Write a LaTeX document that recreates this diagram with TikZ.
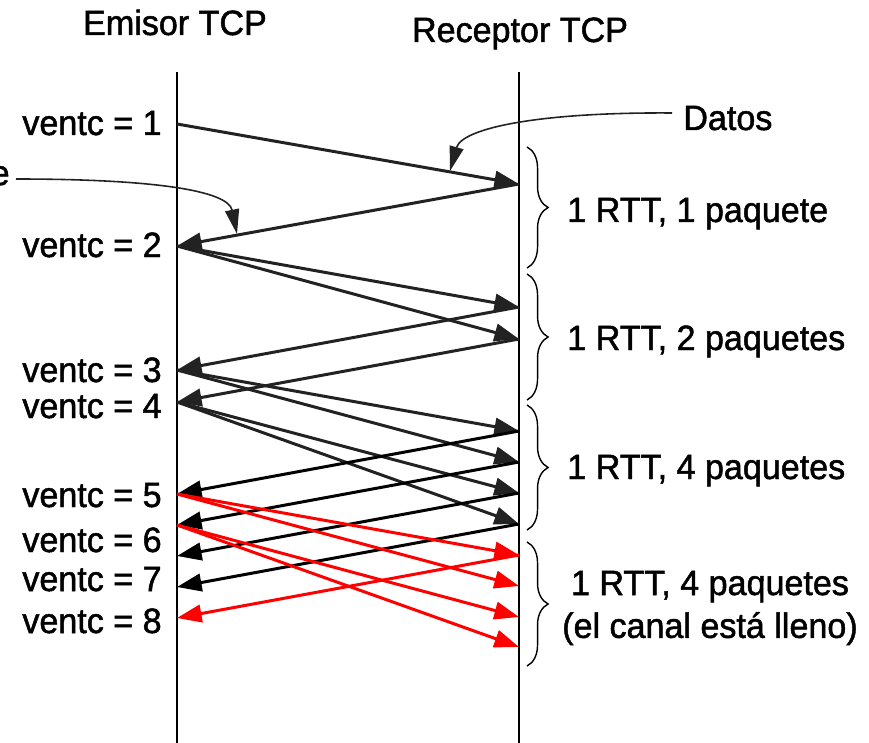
\documentclass[tikz,border=0pt]{standalone}
\usepackage{fontspec}
\setmainfont{Liberation Sans}[FakeStretch=0.97, FakeBold=1.4]
\usepackage{xcolor}
\usetikzlibrary{arrows.meta, decorations.pathreplacing}
\definecolor{pktgray}{HTML}{222222}
\definecolor{pktred}{HTML}{FF0000}

\begin{document}
\begin{tikzpicture}[
    x=0.02cm, y=-0.02cm,
    lbl/.style={font=\fontsize{20}{24.4}\selectfont, inner sep=0pt},
    lifeline/.style={line width=0.9pt},
    pkt/.style={-{Triangle[length=14pt, width=10pt]}, line width=1.7pt, pktgray},
    ackblk/.style={pkt, black},
    pktr/.style={pkt, pktred},
    note/.style={-{Triangle[length=14pt, width=8pt]}, line width=0.9pt, pktgray},
    brc/.style={decorate, decoration={brace, amplitude=12pt}, line width=0.8pt},
  ]

  \useasboundingbox (0,0) rectangle (869,743);

  \node[lbl, anchor=base] (emisor) at (175,35) {Emisor TCP};
  \node[lbl, anchor=base] (receptor) at (520,42) {Receptor TCP};

  \coordinate (etop) at (177,72);
  \coordinate (ebot) at (177,743);
  \coordinate (rtop) at (519,72);
  \coordinate (rbot) at (519,743);
  \draw[lifeline] (etop) -- (ebot);
  \draw[lifeline] (rtop) -- (rbot);

  \node[lbl, anchor=base east] (v1) at (162,135) {ventc = 1};
  \node[lbl, anchor=base east] (v2) at (162,257) {ventc = 2};
  \node[lbl, anchor=base east] (v3) at (162,382) {ventc = 3};
  \node[lbl, anchor=base east] (v4) at (162,418) {ventc = 4};
  \node[lbl, anchor=base east] (v5) at (162,507) {ventc = 5};
  \node[lbl, anchor=base east] (v6) at (162,552) {ventc = 6};
  \node[lbl, anchor=base east] (v7) at (162,591) {ventc = 7};
  \node[lbl, anchor=base east] (v8) at (162,633) {ventc = 8};

  % emisor side
  \coordinate (e1) at (177,124);
  \coordinate (e2) at (177,246);
  \coordinate (e3) at (177,370);
  \coordinate (e4) at (177,402);
  \coordinate (e5) at (177,494);
  \coordinate (e6) at (177,525);
  \coordinate (e7) at (177,556);
  \coordinate (e8) at (177,587);
  \coordinate (e9) at (177,618);

  % receptor side
  \coordinate (r1) at (519,184);
  \coordinate (r2) at (519,307);
  \coordinate (r3) at (519,339);
  \coordinate (r4) at (519,431);
  \coordinate (r5) at (519,462);
  \coordinate (r6) at (519,493);
  \coordinate (r7) at (519,524);
  \coordinate (r8) at (519,555);
  \coordinate (r9) at (519,586);
  \coordinate (r10) at (519,617);
  \coordinate (r11) at (519,647);

  \draw[pkt] (e1) -- (r1);
  \draw[pkt] (r1) -- (e2);

  \draw[pkt] (e2) -- (r2);
  \draw[pkt] (e2) -- (r3);
  \draw[pkt] (r2) -- (e3);
  \draw[pkt] (r3) -- (e4);

  \draw[pkt] (e3) -- (r4);
  \draw[pkt] (e3) -- (r5);
  \draw[pkt] (e4) -- (r6);
  \draw[pkt] (e4) -- (r7);
  \draw[ackblk] (r4) -- (e5);
  \draw[ackblk] (r5) -- (e6);
  \draw[ackblk] (r6) -- (e7);
  \draw[ackblk] (r7) -- (e8);

  \draw[pktr] (e5) -- (r8);
  \draw[pktr] (e5) -- (r9);
  \draw[pktr] (e6) -- (r10);
  \draw[pktr] (e6) -- (r11);
  \draw[pktr] (r8) -- (e9);

  % annotations
  \node[lbl, anchor=base west] (datos) at (683,130) {Datos};
  \coordinate (dstart) at (672,113);
  \coordinate (dtip) at (450,171);
  \draw[note] (dstart) .. controls (540,112) and (462,128) .. (dtip);

  \node[lbl, anchor=base east] (acklbl) at (10,185) {e};
  \coordinate (astart) at (16,179);
  \coordinate (atip) at (237,234);
  \draw[note] (astart) .. controls (150,179) and (228,190) .. (atip);

  % rounds
  \draw[brc] (527,147) -- (527,268);
  \draw[brc] (527,274) -- (527,400);
  \draw[brc] (527,405) -- (527,530);
  \draw[brc] (527,542) -- (527,666);

  \node[lbl, anchor=base west] (rtt1) at (567,222) {1 RTT, 1 paquete};
  \node[lbl, anchor=base west] (rtt2) at (567,350) {1 RTT, 2 paquetes};
  \node[lbl, anchor=base west] (rtt3) at (567,479) {1 RTT, 4 paquetes};
  \node[lbl, align=center] (rtt4) at (710,608) {1 RTT, 4 paquetes\\(el canal está lleno)};
\end{tikzpicture}
\end{document}
